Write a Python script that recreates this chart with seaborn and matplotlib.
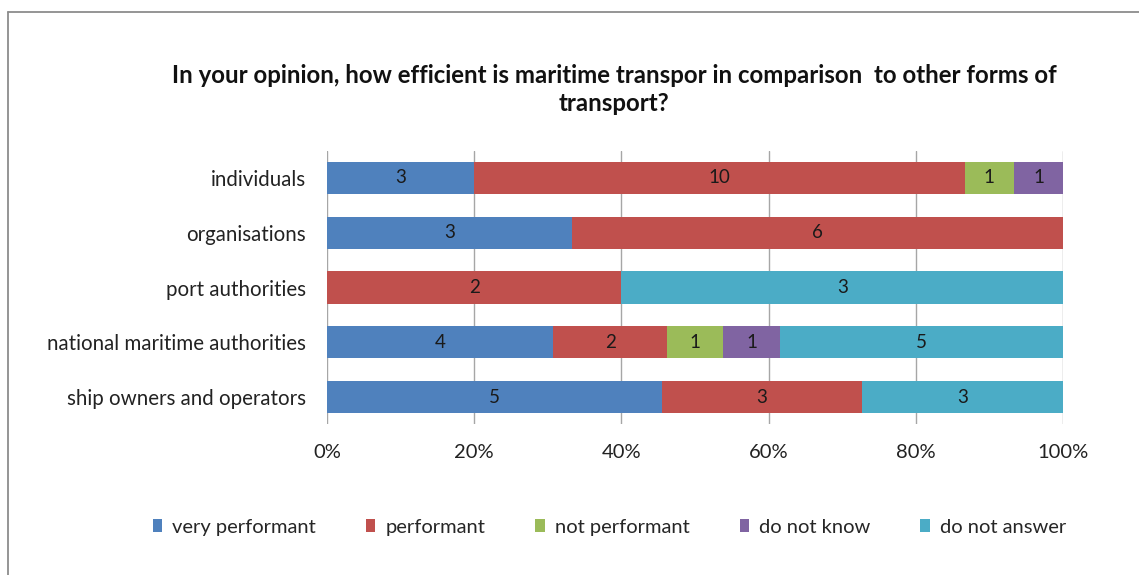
import numpy as np
import pandas as pd
import seaborn as sns
import matplotlib.pyplot as plt
from matplotlib.lines import Line2D
from matplotlib.patches import Patch

categories = ['individuals', 'organisations', 'port authorities',
              'national maritime authorities', 'ship owners and operators']
series = ['very performant', 'performant', 'not performant', 'do not know', 'do not answer']
very_performant = [3, 3, 0, 4, 5]
performant = [10, 6, 2, 2, 3]
not_performant = [1, 0, 0, 1, 0]
do_not_know = [1, 0, 0, 1, 0]
do_not_answer = [0, 0, 3, 5, 3]
colors = ['#4F81BD', '#C0504D', '#9BBB59', '#8064A2', '#4BACC6']

sns.set_style('white')
plt.rcParams['font.family'] = ['Lato', 'DejaVu Sans']

counts = pd.DataFrame(
    np.array([very_performant, performant, not_performant, do_not_know, do_not_answer]).T,
    index=categories, columns=series)
pct = counts.div(counts.sum(axis=1), axis=0) * 100
cum = pct.cumsum(axis=1)

fig = plt.figure(figsize=(11.39, 5.75), dpi=100)
ax = fig.add_axes([0.2871, 0.2619, 0.6462, 0.4762])

# gridlines behind bars
for v in range(0, 101, 20):
    ax.axvline(v, color='#A6A6A6', lw=1.0, zorder=0)

# draw cumulative bars from the right-most series back to the first
for s, c in reversed(list(zip(series, colors))):
    d = pd.DataFrame({'cat': categories, 'val': cum[s].values})
    sns.barplot(data=d, x='val', y='cat', orient='h', color=c, width=0.59,
                saturation=1, ax=ax, zorder=2, linewidth=0)

# segment labels
for i, cat in enumerate(categories):
    left = 0
    for s in series:
        w = pct.loc[cat, s]
        if counts.loc[cat, s] > 0:
            ax.text(left + w / 2, i, str(counts.loc[cat, s]), ha='center', va='center',
                    fontsize=13.5, color='#1A1A1A', zorder=3)
        left += w

ax.set_xlim(0, 100)
ax.set_ylim(4.5, -0.5)
ax.set_xticks(range(0, 101, 20))
ax.set_xticklabels([f'{v}%' for v in range(0, 101, 20)], fontsize=14.5, color='#222222')
ax.tick_params(axis='x', length=0, pad=14)
ax.tick_params(axis='y', length=0, pad=15, labelsize=14.8, labelcolor='#222222')
ax.set_xlabel('')
ax.set_ylabel('')
for sp in ax.spines.values():
    sp.set_visible(False)

fig.text(0.539, 0.869, 'In your opinion, how efficient is maritime transpor in comparison  to other forms of',
         ha='center', va='center', fontsize=17.3, fontweight='bold', color='#111111')
fig.text(0.539, 0.820, 'transport?', ha='center', va='center', fontsize=17.3,
         fontweight='bold', color='#111111')

handles = [Patch(facecolor=c, edgecolor='none') for c in colors]
fig.legend(handles, series, loc='center', bbox_to_anchor=(0.535, 0.083), ncol=5,
           frameon=False, fontsize=14.5, handlelength=0.45, handleheight=0.6,
           handletextpad=0.5, columnspacing=2.5)

# outer chart border (left and top visible)
fig.add_artist(Line2D([8 / 1139, 8 / 1139], [0, 1 - 12 / 575], transform=fig.transFigure,
                      color='#8C8C8C', lw=1.3))
fig.add_artist(Line2D([8 / 1139, 1], [1 - 12 / 575, 1 - 12 / 575], transform=fig.transFigure,
                      color='#8C8C8C', lw=1.3))

fig.savefig('out.png', dpi=100)
